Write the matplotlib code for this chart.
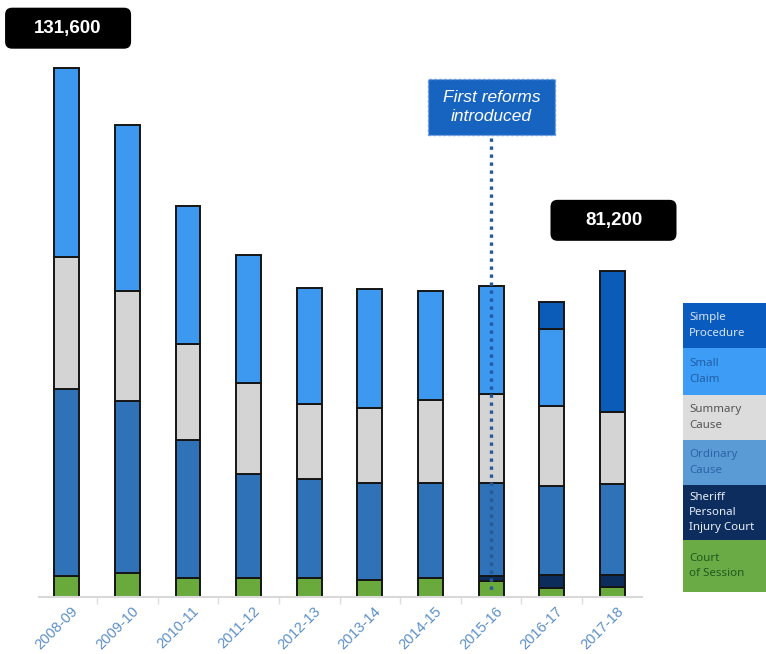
import numpy as np
import matplotlib
matplotlib.use('Agg')
import matplotlib.pyplot as plt
from matplotlib.patches import FancyBboxPatch, Rectangle
from matplotlib.transforms import ScaledTranslation

plt.rcParams['font.family'] = ['Liberation Sans', 'DejaVu Sans']

# data (cases per year)
years = ['2008-09', '2009-10', '2010-11', '2011-12', '2012-13',
         '2013-14', '2014-15', '2015-16', '2016-17', '2017-18']
court_of_session = [5250, 5860, 4810, 4810, 4640, 4230, 4640, 3980, 2300, 2500]
sheriff_pi = [0, 0, 0, 0, 0, 0, 0, 1240, 3100, 2900]
ordinary_cause = [46400, 42850, 34280, 25700, 24640, 24200, 23800, 23200, 22140, 22640]
summary_cause = [32900, 27300, 23780, 22730, 18620, 18650, 20480, 21970, 20070, 18000]
small_claim = [47050, 41340, 34280, 31760, 28900, 29600, 27190, 26860, 19160, 0]
simple_procedure = [0, 0, 0, 0, 0, 0, 0, 0, 6550, 35160]

series_names = ['Court\nof Session', 'Sheriff\nPersonal\nInjury Court', 'Ordinary\nCause',
                'Summary\nCause', 'Small\nClaim', 'Simple\nProcedure']
series = [court_of_session, sheriff_pi, ordinary_cause, summary_cause, small_claim, simple_procedure]
bar_colors = ['#6aaa3c', '#0c2d5c', '#2f72b8', '#d4d4d4', '#3d99f0', '#0b5cb8']
legend_colors = ['#6aab45', '#0c2d5e', '#5b9bd5', '#dcdcdc', '#3d9cf5', '#0a5bc0']
legend_text_colors = ['#1e5a1e', '#e8eef7', '#2a64a8', '#555555', '#1f5fa8', '#d6e4f5']

callouts = [(0, 131600, 141500), (9, 81200, 93700)]  # (bar, label, height of box)
reform_year = 7

fig = plt.figure(figsize=(7.66, 6.54), dpi=100)
ax = fig.add_axes([0.0509, 0.0872, 0.7872, 0.8823])

x = np.arange(len(years))
bottom = np.zeros(len(years))
for vals, col in zip(series, bar_colors):
    vals = np.array(vals, dtype=float)
    nz = vals > 0
    ax.bar(x[nz], vals[nz], width=0.41, bottom=bottom[nz], color=col,
           edgecolor='#151515', linewidth=1.4, zorder=2)
    bottom += vals

ax.set_xlim(-0.46, 9.49)
ax.set_ylim(0, 143550)

for s in ['top', 'right', 'left']:
    ax.spines[s].set_visible(False)
ax.spines['bottom'].set_color('#d9d9d9')
ax.spines['bottom'].set_linewidth(1.5)
ax.set_yticks([])
ax.set_xticks(x)
ax.set_xticklabels(years, rotation=45, ha='right', va='top', rotation_mode='anchor',
                   fontsize=10.5, color='#5b8fc7')
ax.tick_params(axis='x', which='major', length=0, pad=5)
ax.set_xticks(np.arange(0.5, 9.5, 1.0), minor=True)
ax.tick_params(axis='x', which='minor', length=5, color='#dddddd', width=1)
for lab in ax.get_xticklabels():
    lab.set_transform(lab.get_transform() + ScaledTranslation(0.04, 0, fig.dpi_scale_trans))

# black total callouts
for i, tot, yy in callouts:
    trans = fig.dpi_scale_trans + ScaledTranslation(i + 0.02, yy, ax.transData)
    ax.add_patch(FancyBboxPatch((-0.63, -0.205), 1.26, 0.41,
                                boxstyle='round,pad=0,rounding_size=0.07',
                                facecolor='black', edgecolor='none',
                                transform=trans, zorder=5, clip_on=False))
    ax.text(i + 0.02, yy, f'{tot:,}', color='white', fontsize=13.5, fontweight='bold',
            ha='center', va='center', zorder=6)

# reforms marker
ref_y = 121900
trans = fig.dpi_scale_trans + ScaledTranslation(reform_year + 0.01, ref_y, ax.transData)
ax.add_patch(FancyBboxPatch((-0.635, -0.28), 1.27, 0.56,
                            boxstyle='square,pad=0', facecolor='#1763c0',
                            edgecolor='#6b9be0', linestyle=(0, (2, 1.5)), linewidth=1,
                            transform=trans, zorder=5, clip_on=False))
ax.text(reform_year + 0.01, ref_y, 'First reforms\nintroduced', color='white',
        fontsize=12.5, fontstyle='italic', ha='center', va='center',
        linespacing=1.4, zorder=6)
ax.plot([reform_year, reform_year], [114300, 1200], color='#26599a',
        linestyle=(0, (1, 1.4)), linewidth=2.4, zorder=4)

# side legend as coloured blocks
edges = [592, 540, 485, 440, 395, 348, 303]
H = 654.0
for k, name in enumerate(series_names):
    y0 = (H - edges[k]) / H
    y1 = (H - edges[k + 1]) / H
    fig.patches.append(Rectangle((683 / 766, y0), 1 - 683 / 766, y1 - y0,
                                 transform=fig.transFigure, facecolor=legend_colors[k],
                                 edgecolor='none'))
    fig.text(689 / 766, (y0 + y1) / 2, name, fontsize=8.3, family=['Noto Sans', 'DejaVu Sans'],
             color=legend_text_colors[k], ha='left', va='center', linespacing=1.55)

fig.savefig('out.png', dpi=100)
